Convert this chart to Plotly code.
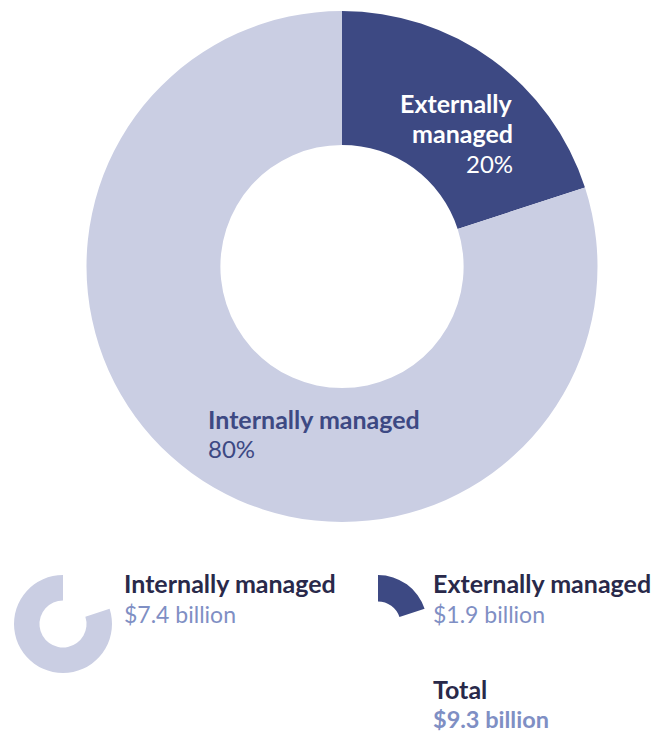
import plotly.graph_objects as go

# Assets under management split by management type
categories = ["Externally managed", "Internally managed"]
shares = [20, 80]                 # percent of total
amounts_bn = [1.9, 7.4]           # $ billion
total_bn = 9.3

DARK = "#3d4983"
LIGHT = "#cacee3"
NAVY = "#29294a"
SOFT = "#7f8fc4"
CLEAR = "rgba(0,0,0,0)"
FONT = "Lato"

W, H = 657, 733


def dom(cx, cy, r):
    """Pie domain (paper fractions) for a circle centred at pixel (cx, cy)."""
    return dict(x=[(cx - r) / W, (cx + r) / W],
                y=[(H - cy - r) / H, (H - cy + r) / H])


def pie(colors, domain, hole):
    return go.Pie(
        labels=categories, values=shares, sort=False, direction="clockwise",
        rotation=0, hole=hole, textinfo="none", showlegend=False,
        marker=dict(colors=colors, line=dict(width=0)),
        domain=domain, hoverinfo="label+percent",
    )


fig = go.Figure()
fig.add_trace(pie([DARK, LIGHT], dom(342, 266.5, 255.5), 0.476))
fig.add_trace(pie([CLEAR, LIGHT], dom(63, 624, 49), 0.48))
fig.add_trace(pie([DARK, CLEAR], dom(378, 624, 49), 0.46))

annotations = []


def label(text, x, baseline, color, size, bold=False, anchor="left"):
    yc = baseline - 0.35 * size
    xs = x - 2 if anchor == "left" else x + 2
    annotations.append(dict(
        text=text, x=xs / W, y=1 - yc / H, xref="paper", yref="paper",
        xanchor=anchor, yanchor="middle", showarrow=False,
        font=dict(family=FONT, size=size, color=color,
                  weight=700 if bold else 400),
    ))


ext_name, int_name = categories
ext_share, int_share = shares
ext_amt, int_amt = amounts_bn

# labels on the main donut
label("Externally", 513, 112, "white", 25, bold=True, anchor="right")
label("managed", 513, 142, "white", 25, bold=True, anchor="right")
label(f"{ext_share}%", 513, 172, "white", 24, anchor="right")
label(int_name, 208, 428, DARK, 25, bold=True)
label(f"{int_share}%", 208, 457, DARK, 24)

# key below the chart
label(int_name, 124, 592, NAVY, 25, bold=True)
label(f"${int_amt} billion", 124, 622, SOFT, 23)
label(ext_name, 433, 592, NAVY, 25, bold=True)
label(f"${ext_amt} billion", 433, 622, SOFT, 23)
label("Total", 433, 698, NAVY, 25, bold=True)
label(f"${total_bn} billion", 433, 727, SOFT, 23.5, bold=True)

fig.update_layout(
    width=W, height=H, margin=dict(l=0, r=0, t=0, b=0),
    paper_bgcolor="white", plot_bgcolor="white",
    annotations=annotations,
)

fig.write_html("out.html")
